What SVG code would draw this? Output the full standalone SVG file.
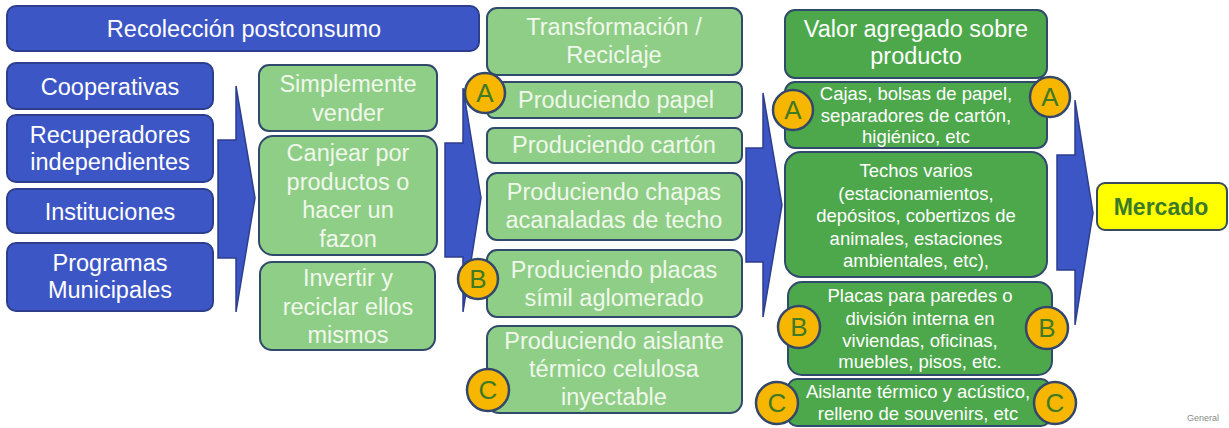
<svg xmlns="http://www.w3.org/2000/svg" width="1229" height="428" viewBox="0 0 1229 428">
<style>
.blue{fill:#3D56C6;stroke:#2C3E8C;stroke-width:2}
.lg{fill:#8FCE86;stroke:#2F4A6A;stroke-width:2}
.dg{fill:#4DA84B;stroke:#2F4A6A;stroke-width:2}
.yl{fill:#FFFF00;stroke:#3A4A5A;stroke-width:2}
.arr{fill:#3D56C6;stroke:#2C3E8C;stroke-width:1.5}
.circ{fill:#F7B600;stroke:#33476A;stroke-width:2.5}
text{font-family:"Liberation Sans",Arial,sans-serif;text-anchor:middle}
.tw{fill:#FFFFFF;font-size:23.5px}
.tl{fill:#F0F8EC;font-size:23.5px}
.ts{fill:#FFFFFF;font-size:18.5px}
.tm{fill:#3A7A28;font-size:23px;font-weight:bold}
.tc{fill:#3F7A25;font-size:26px}
.gen{fill:#8A8A8A;font-size:9px;text-anchor:start}
</style>
<g id="connectors">
<polygon class="arr" points="236,86 255,198 236,312 236,258 218,258 218,140 236,140"/>
<polygon class="arr" points="463,88 481,198 463,312 463,257 445,257 445,143 463,143"/>
<polygon class="arr" points="763,93 782,205 763,317 763,262 746,262 746,148 763,148"/>
<polygon class="arr" points="1075,100 1093,213 1075,325 1075,270 1057,270 1057,155 1075,155"/>
</g>
<g id="recoleccion"><rect class="blue" x="7" y="6" width="472" height="45" rx="9"/><text class="tw" x="244" y="37">Recolección postconsumo</text></g>
<g id="cooperativas"><rect class="blue" x="7" y="63" width="206" height="46" rx="9"/><text class="tw" x="110" y="95">Cooperativas</text></g>
<g id="recuperadores"><rect class="blue" x="7" y="115" width="206" height="67" rx="9"/><text class="tw" x="110" y="143">Recuperadores</text><text class="tw" x="110" y="170">independientes</text></g>
<g id="instituciones"><rect class="blue" x="7" y="189" width="206" height="44" rx="9"/><text class="tw" x="110" y="220">Instituciones</text></g>
<g id="programas"><rect class="blue" x="7" y="243" width="206" height="68" rx="9"/><text class="tw" x="110" y="271">Programas</text><text class="tw" x="110" y="298">Municipales</text></g>
<g id="simplemente"><rect class="lg" x="259" y="65" width="178" height="66" rx="10"/><text class="tl" x="348" y="92">Simplemente</text><text class="tl" x="348" y="121">vender</text></g>
<g id="canjear"><rect class="lg" x="259" y="136" width="178" height="119" rx="14"/><text class="tl" x="348" y="161">Canjear por</text><text class="tl" x="348" y="190">productos o</text><text class="tl" x="348" y="218">hacer un</text><text class="tl" x="348" y="247">fazon</text></g>
<g id="invertir"><rect class="lg" x="260" y="262" width="175" height="88" rx="12"/><text class="tl" x="348" y="286">Invertir y</text><text class="tl" x="348" y="315">reciclar ellos</text><text class="tl" x="348" y="343">mismos</text></g>
<g id="transformacion"><rect class="lg" x="487" y="8" width="255" height="67" rx="10"/><text class="tl" x="614" y="35">Transformación /</text><text class="tl" x="614" y="63">Reciclaje</text></g>
<g id="papel"><rect class="lg" x="487" y="82" width="255" height="36" rx="7"/><text class="tl" x="616" y="108">Produciendo papel</text></g>
<g id="carton"><rect class="lg" x="487" y="128" width="255" height="35" rx="7"/><text class="tl" x="614" y="153">Produciendo cartón</text></g>
<g id="chapas"><rect class="lg" x="487" y="173" width="255" height="67" rx="10"/><text class="tl" x="614" y="200">Produciendo chapas</text><text class="tl" x="614" y="228">acanaladas de techo</text></g>
<g id="placas"><rect class="lg" x="487" y="250" width="255" height="67" rx="10"/><text class="tl" x="614" y="278">Produciendo placas</text><text class="tl" x="614" y="306">símil aglomerado</text></g>
<g id="aislante"><rect class="lg" x="487" y="326" width="255" height="87" rx="12"/><text class="tl" x="614" y="349">Produciendo aislante</text><text class="tl" x="614" y="377">térmico celulosa</text><text class="tl" x="614" y="405">inyectable</text></g>
<g id="valor"><rect class="dg" x="785" y="10" width="262" height="68" rx="10"/><text class="tw" x="916" y="37">Valor agregado sobre</text><text class="tw" x="916" y="64">producto</text></g>
<g id="cajas"><rect class="dg" x="785" y="82" width="262" height="66" rx="10"/><text class="ts" x="916" y="100">Cajas, bolsas de papel,</text><text class="ts" x="916" y="122">separadores de cartón,</text><text class="ts" x="916" y="143">higiénico, etc</text></g>
<g id="techos"><rect class="dg" x="785" y="152" width="262" height="125" rx="16"/><text class="ts" x="916" y="177">Techos varios</text><text class="ts" x="916" y="200">(estacionamientos,</text><text class="ts" x="916" y="222">depósitos, cobertizos de</text><text class="ts" x="916" y="245">animales, estaciones</text><text class="ts" x="916" y="267">ambientales, etc),</text></g>
<g id="placasparedes"><rect class="dg" x="788" y="282" width="264" height="93" rx="14"/><text class="ts" x="920" y="302">Placas para paredes o</text><text class="ts" x="920" y="325">división interna en</text><text class="ts" x="920" y="347">viviendas, oficinas,</text><text class="ts" x="920" y="368">muebles, pisos, etc.</text></g>
<g id="aislantetermico"><rect class="dg" x="788" y="379" width="262" height="47" rx="9"/><text class="ts" x="918" y="398">Aislante térmico y acústico,</text><text class="ts" x="918" y="420">relleno de souvenirs, etc</text></g>
<g id="mercado"><rect class="yl" x="1097" y="183" width="130" height="47" rx="8"/><text class="tm" x="1161" y="215">Mercado</text></g>
<g id="markers">
<g id="a1"><circle class="circ" cx="485" cy="93" r="20"/><text class="tc" x="485" y="102">A</text></g>
<g id="b1"><circle class="circ" cx="478" cy="279" r="20"/><text class="tc" x="478" y="288">B</text></g>
<g id="c1"><circle class="circ" cx="488" cy="390" r="21"/><text class="tc" x="488" y="399">C</text></g>
<g id="a2"><circle class="circ" cx="793" cy="110" r="20"/><text class="tc" x="793" y="119">A</text></g>
<g id="a3"><circle class="circ" cx="1050" cy="97" r="20"/><text class="tc" x="1050" y="106">A</text></g>
<g id="b2"><circle class="circ" cx="799" cy="327" r="21"/><text class="tc" x="799" y="336">B</text></g>
<g id="b3"><circle class="circ" cx="1047" cy="328" r="21"/><text class="tc" x="1047" y="337">B</text></g>
<g id="c2"><circle class="circ" cx="777" cy="403" r="21"/><text class="tc" x="777" y="412">C</text></g>
<g id="c3"><circle class="circ" cx="1055" cy="403" r="21"/><text class="tc" x="1055" y="412">C</text></g>
</g>
<text class="gen" x="1187" y="421">General</text>
</svg>
